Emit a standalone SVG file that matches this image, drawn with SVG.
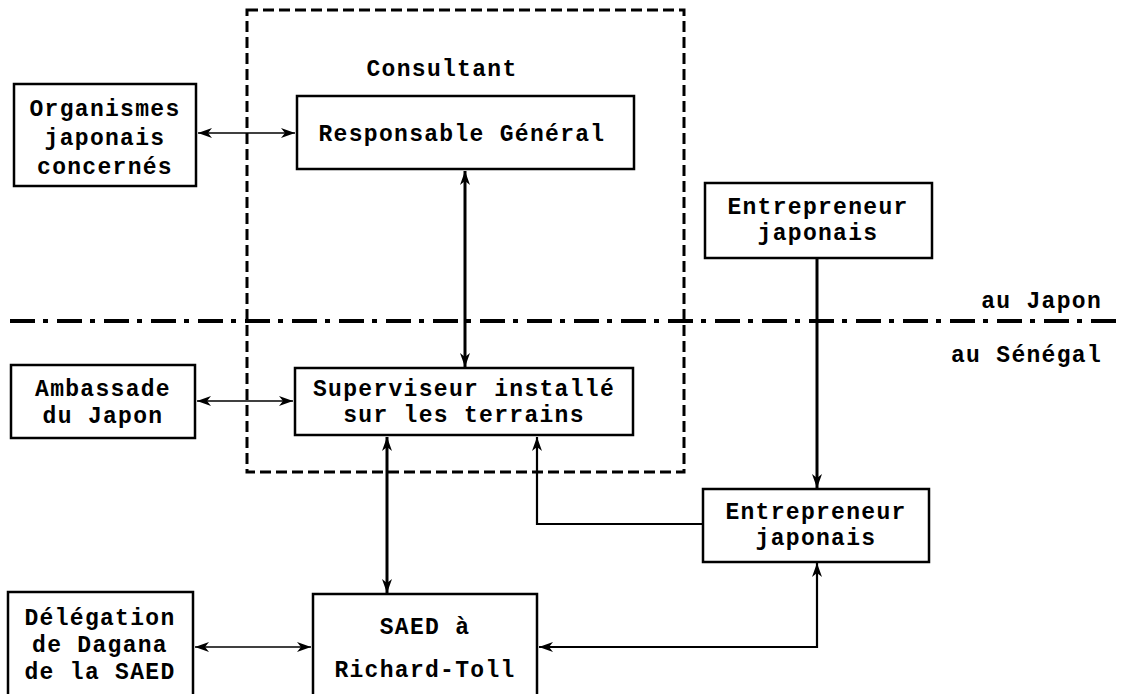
<svg xmlns="http://www.w3.org/2000/svg" width="1121" height="694" viewBox="0 0 1121 694">
<style>
.box{fill:#fff;stroke:#000;stroke-width:2.5}
.t{font-family:"Liberation Mono","Courier New",monospace;font-weight:bold;font-size:23px;letter-spacing:1.3px;fill:#000;text-anchor:middle}
.thin{fill:none;stroke:#000;stroke-width:1.6}
.mid{fill:none;stroke:#000;stroke-width:2.2}
.thick{fill:none;stroke:#000;stroke-width:3}
.dash{fill:none;stroke:#000;stroke-width:3;stroke-dasharray:11 5}
.dashdot{fill:none;stroke:#000;stroke-width:4;stroke-dasharray:25 8 5 9}
</style>
<defs>
<marker id="ah" markerUnits="userSpaceOnUse" markerWidth="16" markerHeight="10" refX="14" refY="5" orient="auto-start-reverse">
<path d="M0,0 L14,5 L0,10 L4,5 z" fill="#000"/>
</marker>
</defs>
<rect width="1121" height="694" fill="#fff"/>

<g id="consultant">
<rect class="dash" x="247" y="10" width="437" height="462"/>
<text class="t" x="442" y="76">Consultant</text>
</g>

<g id="separator">
<line class="dashdot" x1="10" y1="321" x2="1121" y2="321"/>
<text class="t" x="1102" y="308" style="text-anchor:end">au Japon</text>
<text class="t" x="1102" y="362" style="text-anchor:end">au Sénégal</text>
</g>

<g id="connectors">
<line class="thin" x1="198" y1="133" x2="295" y2="133" marker-start="url(#ah)" marker-end="url(#ah)"/>
<line class="thick" x1="465" y1="171" x2="465" y2="367" marker-start="url(#ah)" marker-end="url(#ah)"/>
<line class="thin" x1="197" y1="401" x2="293" y2="401" marker-start="url(#ah)" marker-end="url(#ah)"/>
<line class="thick" x1="817" y1="259" x2="817" y2="488" marker-end="url(#ah)"/>
<polyline class="mid" points="703,524 537,524 537,437" marker-end="url(#ah)"/>
<line class="thick" x1="387" y1="437" x2="387" y2="593" marker-start="url(#ah)" marker-end="url(#ah)"/>
<line class="thin" x1="195" y1="647" x2="311" y2="647" marker-start="url(#ah)" marker-end="url(#ah)"/>
<polyline class="mid" points="539,647 817,647 817,563" marker-start="url(#ah)" marker-end="url(#ah)"/>
</g>

<g id="organismes">
<rect class="box" x="14" y="84" width="182" height="102"/>
<text class="t" x="105" y="116">Organismes</text>
<text class="t" x="105" y="145">japonais</text>
<text class="t" x="105" y="174">concernés</text>
</g>

<g id="responsable">
<rect class="box" x="297" y="96" width="337" height="73"/>
<text class="t" x="462" y="141">Responsable Général</text>
</g>

<g id="entrepreneur-japon">
<rect class="box" x="705" y="183" width="227" height="75"/>
<text class="t" x="818" y="214">Entrepreneur</text>
<text class="t" x="818" y="240">japonais</text>
</g>

<g id="ambassade">
<rect class="box" x="11" y="365" width="184" height="73"/>
<text class="t" x="103" y="396">Ambassade</text>
<text class="t" x="103" y="423">du Japon</text>
</g>

<g id="superviseur">
<rect class="box" x="295" y="368" width="338" height="67"/>
<text class="t" x="464" y="396">Superviseur installé</text>
<text class="t" x="464" y="422">sur les terrains</text>
</g>

<g id="entrepreneur-senegal">
<rect class="box" x="703" y="489" width="226" height="73"/>
<text class="t" x="816" y="519">Entrepreneur</text>
<text class="t" x="816" y="545">japonais</text>
</g>

<g id="delegation">
<rect class="box" x="8" y="592" width="185" height="120"/>
<text class="t" x="100" y="625">Délégation</text>
<text class="t" x="100" y="652">de Dagana</text>
<text class="t" x="100" y="679">de la SAED</text>
</g>

<g id="saed">
<rect class="box" x="313" y="594" width="224" height="120"/>
<text class="t" x="425" y="634">SAED à</text>
<text class="t" x="425" y="677">Richard-Toll</text>
</g>
</svg>
